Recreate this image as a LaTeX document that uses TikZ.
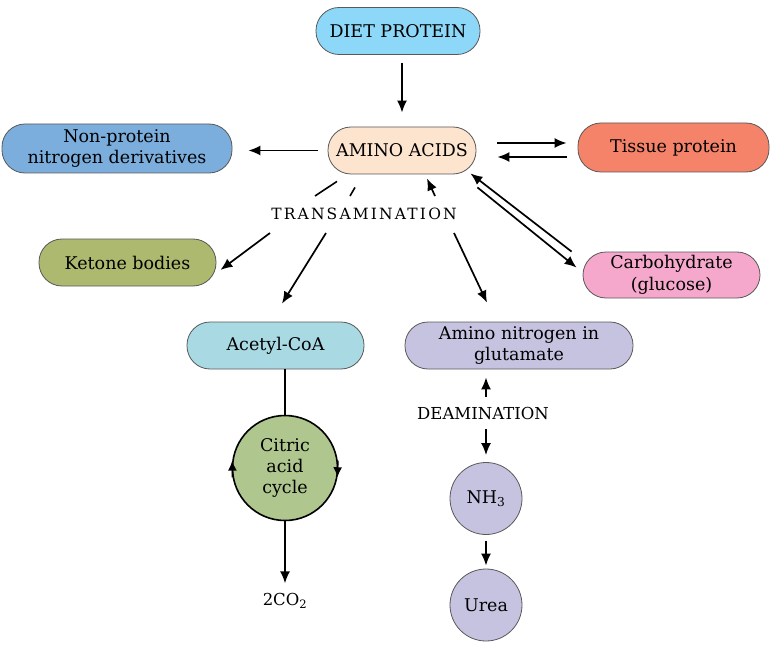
\documentclass[tikz,border=0pt]{standalone}
\usepackage{fontspec}
\setmainfont{DejaVu Serif}
\usetikzlibrary{arrows.meta}
\definecolor{dietblue}{HTML}{8DD8F8}
\definecolor{aminopeach}{HTML}{FDE4CF}
\definecolor{nonprotblue}{HTML}{7BAEDD}
\definecolor{tissuered}{HTML}{F4836A}
\definecolor{ketonegreen}{HTML}{ACB96F}
\definecolor{carbpink}{HTML}{F5A8CB}
\definecolor{acetylblue}{HTML}{A9D9E3}
\definecolor{glutlilac}{HTML}{C6C3E1}
\definecolor{citricgreen}{HTML}{AFC78F}
\begin{document}
\begin{tikzpicture}[x=1pt,y=-1pt,
  pill/.style={draw=black!65,line width=0.8pt,rounded corners=23pt,minimum height=47pt,
    align=center,inner sep=2pt,font=\fontsize{17.5}{21.5}\selectfont},
  blob/.style={draw=black!65,line width=0.8pt,circle,align=center,inner sep=0pt,
    font=\fontsize{17.5}{21}\selectfont},
  label/.style={inner sep=0pt,font=\fontsize{16.5}{20}\selectfont},
  flow/.style={-{Latex[length=12pt,width=10pt]},line width=1.7pt},
  turn/.style={-{Latex[length=10pt,width=9pt]},line width=1.6pt},
  link/.style={line width=1.6pt}]
\useasboundingbox (0,0) rectangle (784,647);

\node[pill,fill=dietblue,minimum width=164pt] (diet) at (398,31) {DIET PROTEIN};
\node[pill,fill=aminopeach,minimum width=148pt] (amino) at (402,150.5) {AMINO ACIDS};
\node[pill,fill=nonprotblue,minimum width=230pt,minimum height=49pt] (nonprot) at (117,148.5) {Non-protein\\nitrogen derivatives};
\node[pill,fill=tissuered,minimum width=191pt,minimum height=49pt] (tissue) at (673.5,147.5) {Tissue protein};
\node[pill,fill=ketonegreen,minimum width=177pt] (ketone) at (127.5,262.5) {Ketone bodies};
\node[pill,fill=carbpink,minimum width=177pt,minimum height=46pt] (carb) at (671.5,275) {Carbohydrate\\(glucose)};
\node[pill,fill=acetylblue,minimum width=177pt] (acetyl) at (275.5,345.5) {Acetyl-CoA};
\node[pill,fill=glutlilac,minimum width=228pt] (glut) at (519,345.5) {Amino nitrogen in\\glutamate};
\node[blob,fill=citricgreen,draw=black,line width=1.6pt,minimum size=105pt] (citric) at (285,468) {Citric\\acid\\cycle};
\node[blob,fill=glutlilac,minimum size=72pt] (nh3) at (486,498.5) {NH\textsubscript{3}};
\node[blob,fill=glutlilac,minimum size=72pt] (urea) at (486,605) {Urea};
\node[label,font=\fontsize{15.5}{18}\selectfont\addfontfeatures{LetterSpace=14}] (trans) at (364,214) {TRANSAMINATION};
\node[label] (deam) at (483,413) {DEAMINATION};
\node[label] (co2) at (285,601) {2CO\textsubscript{2}};

\draw[flow,shorten <=8pt,shorten >=14pt] (diet.south -| amino.north) -- (amino.north);
\draw[flow,shorten <=10pt,shorten >=16pt] (amino.west) -- (amino.west -| nonprot.east);
\draw[flow,shorten <=21pt,shorten >=11pt] ([yshift=7.5pt]amino.east) -- ([yshift=7.5pt]amino.east -| tissue.west);
\draw[flow,shorten <=11pt,shorten >=21pt] ([yshift=-6.5pt]amino.east -| tissue.west) -- ([yshift=-6.5pt]amino.east);
\draw[flow] ([xshift=-11pt]carb.north west) -- ([xshift=-6pt,yshift=1pt]amino.south east);
\draw[flow] ([xshift=1pt,yshift=-13pt]amino.south east) -- ([xshift=-6pt,yshift=-16pt]carb.north west);

\draw[link] ([xshift=-65pt,yshift=-7pt]amino.south) -- ([xshift=-49pt,yshift=18pt]trans.center);
\draw[link] ([xshift=-47pt,yshift=-13pt]amino.south) -- ([xshift=-14pt,yshift=18pt]trans.center);
\draw[flow] ([xshift=71pt,yshift=18pt]trans.center) -- ([xshift=25pt,yshift=-4pt]amino.south);
\draw[flow] ([xshift=-94pt,yshift=-19pt]trans.center) -- ([xshift=4pt,yshift=-7.5pt]ketone.east);
\draw[flow] ([xshift=-38pt,yshift=-19pt]trans.center) -- ([xshift=6.5pt,yshift=18pt]acetyl.north);
\draw[flow] ([xshift=90pt,yshift=-19pt]trans.center) -- ([xshift=-32pt,yshift=19pt]glut.north);

\draw[link] (citric.north |- acetyl.south) -- (citric.north);
\draw[flow,shorten >=10pt] (citric.south) -- (co2.north);
\draw[turn] (citric.190) -- (citric.172);
\draw[turn] (citric.8) -- (citric.-10);

\draw[flow,shorten <=10pt,shorten >=8pt] (deam.north -| nh3.north) -- (glut.south -| nh3.north);
\draw[flow,shorten <=10pt,shorten >=7pt] (deam.south -| nh3.north) -- (nh3.north);
\draw[flow,shorten <=6pt,shorten >=3pt] (nh3.south) -- (urea.north);
\end{tikzpicture}
\end{document}
